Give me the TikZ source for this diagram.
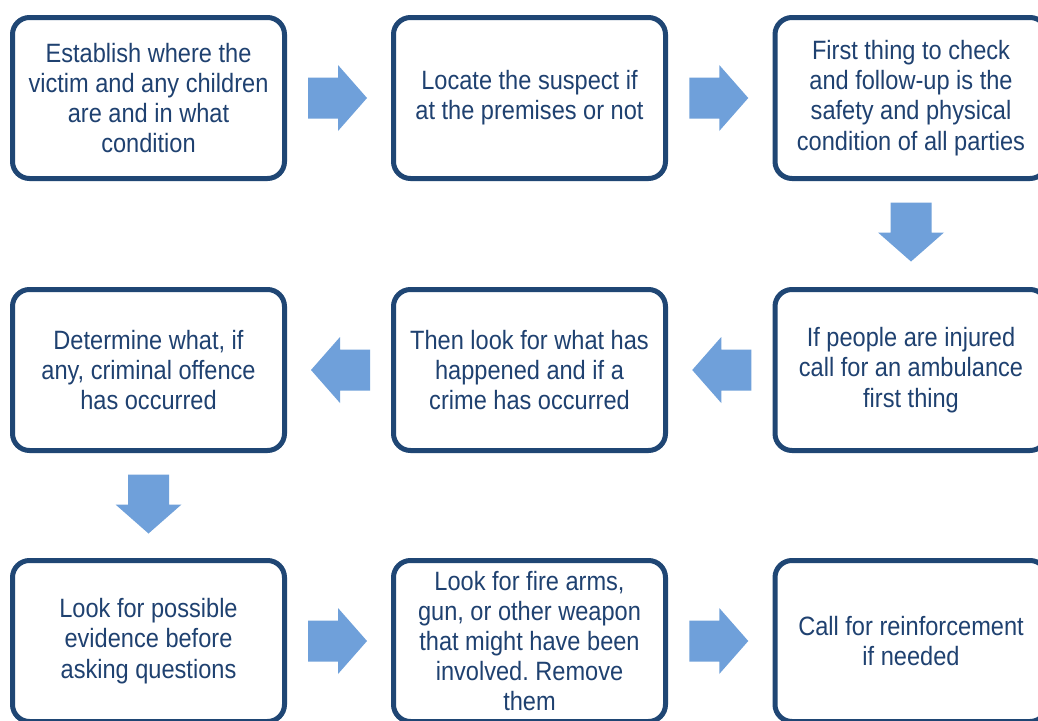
\documentclass[tikz,border=0pt]{standalone}
\usepackage{fontspec}
\setmainfont{Liberation Sans}[FakeStretch=0.89]
\usetikzlibrary{calc}
\frenchspacing
\definecolor{boxline}{HTML}{1F4674}
\definecolor{boxtext}{HTML}{1F4170}
\definecolor{arrowfill}{HTML}{6FA0DA}
\tikzset{
  stepbox/.style={draw=boxline, line width=5pt, rounded corners=17pt, fill=white,
    minimum width=272pt, minimum height=161pt, inner sep=0pt,
    align=center, text=boxtext, font=\fontsize{26.5pt}{30.2pt}\selectfont},
  blockarrow/.pic={\fill[arrowfill] (-29.5,-20.5) -- (0.5,-20.5) -- (0.5,-33) -- (29.5,0) -- (0.5,33) -- (0.5,20.5) -- (-29.5,20.5) -- cycle;}
}
\begin{document}
\begin{tikzpicture}[x=1pt,y=-1pt]
\useasboundingbox[fill=white] (0,0) rectangle (1038,720);
% row 1
\node[stepbox] (a1) at (148.5,98) {Establish where the\\victim and any children\\are and in what\\condition};
\node[stepbox] (a2) at (529.5,98) {Locate the suspect if\\at the premises or not};
\node[stepbox] (a3) at (911,98) {First thing to check\\and follow-up is the\\safety and physical\\condition of all parties};
% row 2
\node[stepbox] (b3) at (911,370) {If people are injured\\call for an ambulance\\first thing};
\node[stepbox] (b2) at (529.5,370) {Then look for what has\\happened and if a\\crime has occurred};
\node[stepbox] (b1) at (148.5,370) {Determine what, if\\any, criminal offence\\has occurred};
% row 3
\node[stepbox] (c1) at (148.5,641) {Look for possible\\evidence before\\asking questions};
\node[stepbox] (c2) at (529.5,641) {Look for fire arms,\\gun, or other weapon\\that might have been\\involved. Remove\\them};
\node[stepbox] (c3) at (911,641) {Call for reinforcement\\if needed};
% connectors (block arrows)
\coordinate (m12) at ($(a1.east)!0.5!(a2.west)+(-1.5,0)$);
\coordinate (m23) at ($(a2.east)!0.5!(a3.west)+(-1.5,0)$);
\coordinate (m3d) at ($(a3.south)!0.5!(b3.north)+(0,-2)$);
\coordinate (n32) at ($(b3.west)!0.5!(b2.east)+(1.5,0)$);
\coordinate (n21) at ($(b2.west)!0.5!(b1.east)+(1.5,0)$);
\coordinate (n1d) at ($(b1.south)!0.5!(c1.north)+(0,-1.5)$);
\coordinate (p12) at ($(c1.east)!0.5!(c2.west)+(-1.5,0)$);
\coordinate (p23) at ($(c2.east)!0.5!(c3.west)+(-1.5,0)$);
\pic at (m12) {blockarrow};
\pic at (m23) {blockarrow};
\pic[rotate=-90] at (m3d) {blockarrow};
\pic[rotate=180] at (n32) {blockarrow};
\pic[rotate=180] at (n21) {blockarrow};
\pic[rotate=-90] at (n1d) {blockarrow};
\pic at (p12) {blockarrow};
\pic at (p23) {blockarrow};
\end{tikzpicture}
\end{document}
